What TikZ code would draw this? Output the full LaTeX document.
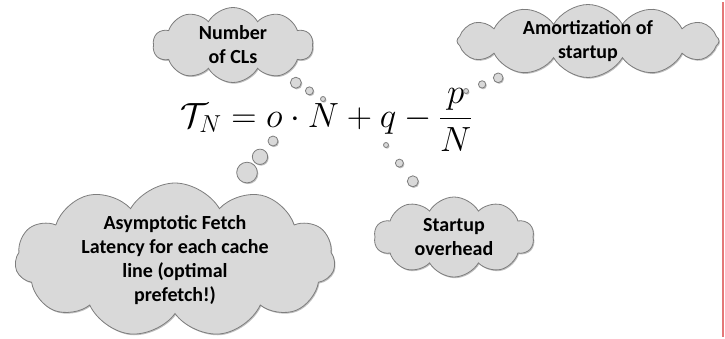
\RequirePackage{fix-cm}
\documentclass[tikz,border=0pt]{standalone}
\usepackage{amsmath}
\usepackage{fontspec}
\setmainfont{Carlito}
\usepackage{tikz}
\usetikzlibrary{shapes.callouts,shadows}

\definecolor{cloudfill}{RGB}{217,217,217}
\definecolor{cloudline}{RGB}{125,125,125}
\definecolor{edgered}{RGB}{228,120,120}

\begin{document}
\begin{tikzpicture}[
    x=1pt, y=-1pt,
    thought/.style={cloud callout, cloud ignores aspect, cloud puff arc=120, draw=cloudline, line width=0.8pt, fill=cloudfill,
        inner sep=0pt, callout pointer segments=3,
        drop shadow={shadow xshift=1pt, shadow yshift=-1.2pt, opacity=0.25, fill=black}},
    words/.style={align=center, inner sep=0pt, font=\bfseries\fontsize{20}{24}\selectfont},
    eqn/.style={inner sep=0pt, font=\fontsize{35}{40}\selectfont}
]
    \useasboundingbox (0,0) rectangle (725,338);

    \node[eqn, anchor=base west] (formula) at (180,127)
        {$\displaystyle \mathcal{T}_N = o\cdot N + q - \frac{p}{N}$};

    % clouds
    \node[thought, cloud puffs=10, minimum width=160pt, minimum height=75pt,
        callout absolute pointer={(323,99)},
        callout pointer start size=14pt, callout pointer end size=5pt] (ncl) at (233,45) {};
    \node[thought, cloud puffs=12, minimum width=262pt, minimum height=73pt,
        callout absolute pointer={(466,91)},
        callout pointer start size=12pt, callout pointer end size=5pt] (amort) at (588,41) {};
    \node[thought, cloud puffs=10, minimum width=160pt, minimum height=80pt,
        callout absolute pointer={(386,145)},
        callout pointer start size=14pt, callout pointer end size=5pt] (start) at (454,237) {};
    \node[thought, cloud puffs=11, minimum width=320pt, minimum height=154pt,
        callout absolute pointer={(273,141)},
        callout pointer start size=26pt, callout pointer end size=10pt] (fetch) at (175,260) {};

    % texts
    \node[words] (ncltext) at (ncl.center) {Number\\of CLs};
    \node[words] (amorttext) at (amort.center) {Amortization of\\startup};
    \node[words] (starttext) at (start.center) {Startup\\overhead};
    \node[words] (fetchtext) at (fetch.center) {Asymptotic Fetch\\Latency for each cache\\line (optimal\\prefetch!)};

    \draw[edgered, line width=1.5pt] (723,2) -- (723,337);
\end{tikzpicture}
\end{document}
